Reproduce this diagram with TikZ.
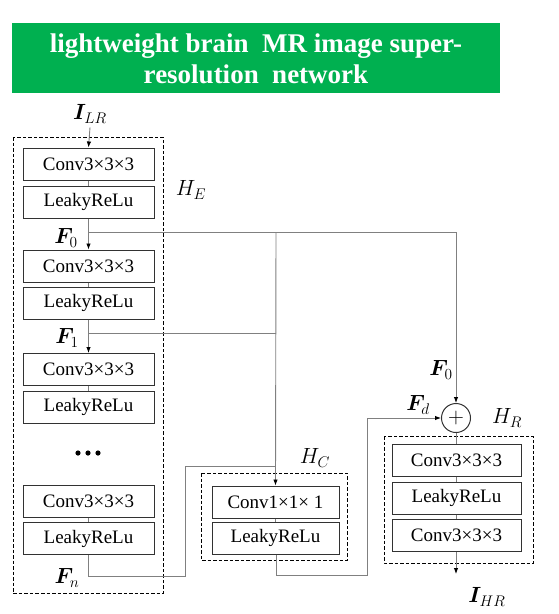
\RequirePackage{fix-cm}
\documentclass[tikz,border=0pt]{standalone}
\usepackage{amsmath,bm}
\usepackage{fontspec}
\setmainfont{Liberation Serif}
\newfontfamily\tnr{Liberation Serif}
\usetikzlibrary{arrows.meta}
\definecolor{bannergreen}{RGB}{0,176,80}
\definecolor{linegray}{RGB}{128,128,128}
\definecolor{boxgray}{RGB}{50,50,50}
\begin{document}
\begin{tikzpicture}[x=1pt,y=-1pt,
  blk/.style={draw=boxgray,line width=1pt,minimum height=32pt,inner sep=0pt,
    font=\tnr\fontsize{19}{19}\selectfont},
  lblk/.style={blk,minimum width=131pt},
  cblk/.style={blk,minimum width=127pt},
  rblk/.style={blk,minimum width=129pt},
  conn/.style={draw=linegray,line width=0.9pt},
  arr/.style={conn,-{Latex[length=6pt,width=4.5pt,color=black]}},
  grp/.style={draw=black,line width=0.9pt,dash pattern=on 3.5pt off 2pt},
  lbl/.style={inner sep=0pt,font=\fontsize{22}{22}\selectfont},
  title/.style={text=white,align=center,font=\tnr\fontsize{27}{31}\selectfont\bfseries}
]
\useasboundingbox (0,0) rectangle (559,614);
% banner
\fill[bannergreen] (12,23) rectangle (500,93);
\node[title] (ttl) at (256,59) {lightweight brain\ \ MR image super-\\resolution\ \ network};

% encoder blocks
\node[lblk] (c1) at (88.5,164) {Conv3×3×3};
\node[lblk] (l1) at (88.5,202) {LeakyReLu};
\node[lblk] (c2) at (88.5,266) {Conv3×3×3};
\node[lblk] (l2) at (88.5,303) {LeakyReLu};
\node[lblk] (c3) at (88.5,369.5) {Conv3×3×3};
\node[lblk] (l3) at (88.5,407) {LeakyReLu};
\node[lblk] (c4) at (88.5,501) {Conv3×3×3};
\node[lblk] (l4) at (88.5,538.5) {LeakyReLu};
\fill (78,453) circle (2.6) (88,453) circle (2.6) (98,453) circle (2.6);

% compression blocks
\node[cblk] (hc1) at (275.5,502) {Conv1×1× 1};
\node[cblk] (hc2) at (275.5,538) {LeakyReLu};

% reconstruction
\node[draw=boxgray,line width=1pt,circle,minimum size=29pt,inner sep=0pt,
  font=\fontsize{22}{22}\selectfont] (plus) at (456,418) {$+$};
\node[rblk] (r1) at (456.5,460) {Conv3×3×3};
\node[rblk] (r2) at (456.5,498) {LeakyReLu};
\node[rblk] (r3) at (456.5,535.5) {Conv3×3×3};

% group frames
\draw[grp] (13,137) rectangle (163,593);
\draw[grp] (201,473) rectangle (347,560);
\draw[grp] (384,436) rectangle (533,563);

% labels
\node[lbl] (ilr) at (90,114) {$\bm{I}_{LR}$};
\node[lbl] (he) at (191,190) {$H_E$};
\node[lbl] (f0l) at (66,238) {$\bm{F}_0$};
\node[lbl] (f1l) at (67,338) {$\bm{F}_1$};
\node[lbl] (fnl) at (67,578) {$\bm{F}_n$};
\node[lbl] (hcl) at (315,458) {$H_C$};
\node[lbl] (f0r) at (441,370) {$\bm{F}_0$};
\node[lbl] (fdl) at (418,405) {$\bm{F}_d$};
\node[lbl] (hrl) at (507,418) {$H_R$};
\node[lbl] (ihr) at (487,597) {$\bm{I}_{HR}$};

% coordinates
\coordinate (f0) at (88.5,232);
\coordinate (f0e) at (456,232);
\coordinate (f0c) at (276,232);
\coordinate (f1) at (88.5,333);
\coordinate (f1e) at (276,333);
\coordinate (fn1) at (88,576);
\coordinate (fn2) at (185,576);
\coordinate (fn3) at (185,466);
\coordinate (fn4) at (276,466);
\coordinate (hco1) at (276,575);
\coordinate (hco2) at (367,575);
\coordinate (hco3) at (367,418);
\coordinate (out) at (456,574);

% connectors
\draw[arr] (ilr.south) ++(0,4) -- (c1.north);
\draw[conn] (c1) -- (l1);
\draw[arr] (l1) -- (c2);
\draw[conn] (c2) -- (l2);
\draw[arr] (l2) -- (c3);
\draw[conn] (c3) -- (l3);
\draw[conn] (c4) -- (l4);
\draw[conn] (f0) -- (f0e);
\draw[arr] (f0e) -- (plus.north);
\draw[conn] (f1) -- (f1e);
\draw[arr] (f0c) -- (hc1.north);
\draw[conn] (l4.south -| fn1) -- (fn1) -- (fn2) -- (fn3) -- (fn4);
\draw[conn] (hc1) -- (hc2);
\draw[arr] (hc2.south -| hco1) -- (hco1) -- (hco2) -- (hco3) -- (plus.west);
\draw[conn] (plus.south) -- (r1.north -| plus.south);
\draw[conn] (r1) -- (r2);
\draw[conn] (r2) -- (r3);
\draw[arr] (r3.south -| out) -- (out);
\end{tikzpicture}
\end{document}
